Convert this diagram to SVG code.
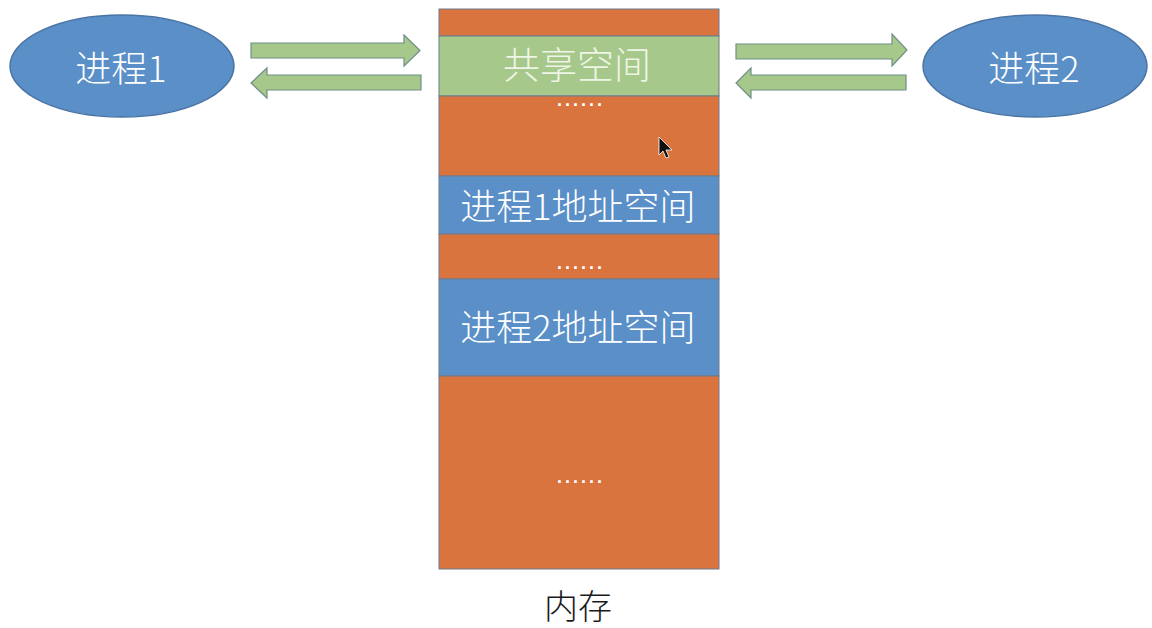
<svg xmlns="http://www.w3.org/2000/svg" width="1152" height="628" viewBox="0 0 1152 628">
<style>
.lbl{font-family:"Noto Sans CJK SC","Liberation Sans",sans-serif;font-size:36px;font-weight:300;fill:#ffffff;text-anchor:middle;dominant-baseline:central}
.dots{font-family:"Liberation Sans",sans-serif;font-size:18px;fill:#ffffff;text-anchor:middle;font-weight:bold;letter-spacing:3px}
.or{fill:#D9743F;stroke:#6E7B8B;stroke-width:1}
.bl{fill:#5A8FC8;stroke:#6E7B8B;stroke-width:1}
.gr{fill:#A7C88B;stroke:#6E7B8B;stroke-width:1}
.arr{fill:#A7C88B;stroke:#6F8F88;stroke-width:1.2}
.ell{fill:#5A8FC8;stroke:#4A74A4;stroke-width:1.5}
</style>
<rect width="1152" height="628" fill="#ffffff"/>
<g id="process1">
<ellipse class="ell" cx="122" cy="66" rx="112" ry="51"/>
<text class="lbl" x="121" y="66">进程1</text>
</g>
<g id="process2">
<ellipse class="ell" cx="1035" cy="66" rx="112" ry="51"/>
<text class="lbl" x="1034" y="66">进程2</text>
</g>
<g id="memory">
<rect class="or" x="439" y="9" width="280" height="27"/>
<rect class="gr" x="439" y="36" width="280" height="60"/>
<rect class="or" x="439" y="96" width="280" height="80"/>
<rect class="bl" x="439" y="176" width="280" height="58"/>
<rect class="or" x="439" y="234" width="280" height="45"/>
<rect class="bl" x="439" y="279" width="280" height="97"/>
<rect class="or" x="439" y="376" width="280" height="193"/>
<text class="lbl" x="577" y="63" style="fill:#EEF5E6;font-size:37px">共享空间</text>
<text class="dots" x="581" y="106">......</text>
<text class="lbl" x="578" y="204">进程1地址空间</text>
<text class="dots" x="581" y="269">......</text>
<text class="lbl" x="578" y="325">进程2地址空间</text>
<text class="dots" x="581" y="483">......</text>
<text class="lbl" x="578" y="604" style="fill:#1a1a1a;font-size:34px">内存</text>
</g>
<g id="connectors">
<polygon class="arr" points="251,43 404,43 404,35 420,50.5 404,66 404,58 251,58"/>
<polygon class="arr" points="421,75 267,75 267,68 251,83 267,98 267,90 421,90"/>
<polygon class="arr" points="736,44 892,44 892,34 907,50 892,66 892,59 736,59"/>
<polygon class="arr" points="906,75 751,75 751,68 736,83 751,98 751,90 906,90"/>
</g>
<g id="cursor">
<path d="M659,137 L659,155 L663,151 L666,158 L669,157 L666,150 L672,150 Z" fill="#111" stroke="#fff" stroke-width="0.8"/>
</g>
</svg>
